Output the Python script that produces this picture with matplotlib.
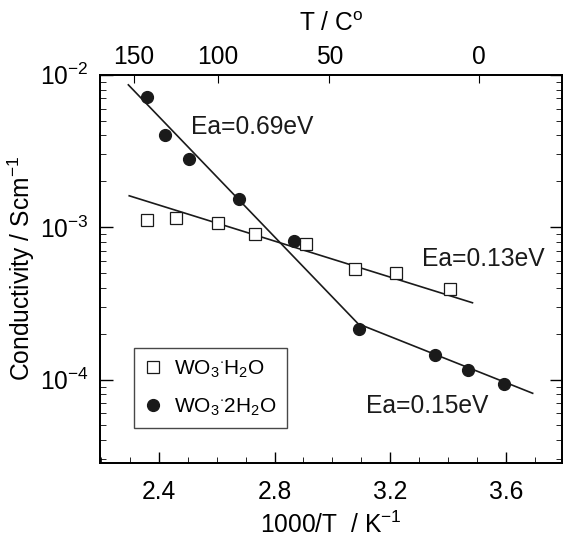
import matplotlib
matplotlib.use("Agg")
import matplotlib.pyplot as plt
from matplotlib.ticker import LogLocator, NullFormatter, FixedLocator, MultipleLocator

plt.rcParams['font.family'] = ['Liberation Sans', 'DejaVu Sans']
plt.rcParams['mathtext.fontset'] = 'custom'
plt.rcParams['mathtext.rm'] = 'Liberation Sans'
plt.rcParams['mathtext.it'] = 'Liberation Sans'
plt.rcParams['mathtext.bf'] = 'Liberation Sans:bold'

# WO3·2H2O (filled circles)
x_dihydrate = [2.358, 2.421, 2.506, 2.677, 2.868, 3.093, 3.353, 3.468, 3.594]
y_dihydrate = [7.13e-3, 4.03e-3, 2.79e-3, 1.53e-3, 8.1e-4, 2.15e-4, 1.46e-4, 1.15e-4, 9.35e-5]

# WO3·H2O (open squares)
x_mono = [2.360, 2.459, 2.606, 2.733, 2.908, 3.079, 3.220, 3.408]
y_mono = [1.12e-3, 1.15e-3, 1.07e-3, 9.0e-4, 7.78e-4, 5.35e-4, 4.98e-4, 3.93e-4]

# fitted lines
fit_mono_x = [2.298, 3.484]
fit_mono_y = [10**-2.794, 10**-3.496]
fit_di_x = [2.295, 3.089, 3.692]
fit_di_y = [10**-2.066, 10**-3.634, 10**-4.090]

ea_labels = ['Ea=0.69eV', 'Ea=0.13eV', 'Ea=0.15eV']
ea_x = [2.513, 3.310, 3.116]
ea_y = [4.55e-3, 6.15e-4, 6.75e-5]

x_ticks = [2.4, 2.8, 3.2, 3.6]
top_tick_labels = ['150', '100', '50', '0']
top_tick_pos = [2.313, 2.604, 2.989, 3.507]

fig = plt.figure(figsize=(5.65, 5.42), dpi=100)
ax = fig.add_axes([0.177, 0.146, 0.818, 0.716])

ax.plot(fit_mono_x, fit_mono_y, color='#1a1a1a', lw=1.2, zorder=2)
ax.plot(fit_di_x, fit_di_y, color='#1a1a1a', lw=1.2, zorder=2)
ax.plot(x_mono, y_mono, ls='none', marker='s', ms=8, mfc='white', mec='#1a1a1a', mew=0.9,
        label=r'WO$_3$$^{\cdot}$H$_2$O', zorder=3)
ax.plot(x_dihydrate, y_dihydrate, ls='none', marker='o', ms=8.5, mfc='#1a1a1a', mec='#1a1a1a',
        label=r'WO$_3$$^{\cdot}$2H$_2$O', zorder=3)

ax.set_yscale('log')
ax.set_xlim(2.197, 3.794)
ax.set_ylim(2.84e-5, 1e-2)

ax.xaxis.set_major_locator(FixedLocator(x_ticks))
ax.xaxis.set_minor_locator(MultipleLocator(0.1))
ax.set_xticklabels(['2.4', '2.8', '3.2', '3.6'])
ax.yaxis.set_major_locator(LogLocator(base=10, numticks=10))
ax.yaxis.set_minor_locator(LogLocator(base=10, subs=range(2, 10), numticks=20))
ax.yaxis.set_minor_formatter(NullFormatter())

ax.tick_params(axis='both', which='major', direction='in', labelsize=17.7, width=1.0)
ax.tick_params(axis='x', which='major', length=8, pad=12, top=False)
ax.tick_params(axis='x', which='minor', direction='in', length=4, top=False)
ax.tick_params(axis='y', which='major', length=9, right=True, pad=8)
ax.tick_params(axis='y', which='minor', direction='in', length=4.5, right=True)
for s in ax.spines.values():
    s.set_linewidth(1.3)

ax.set_xlabel(r'1000/T  / K$^{-1}$', fontsize=17.7, labelpad=6)
ax.set_ylabel(r'Conductivity / Scm$^{-1}$', fontsize=17.7, labelpad=2)

ax2 = ax.twiny()
ax2.set_xlim(ax.get_xlim())
ax2.xaxis.set_major_locator(FixedLocator(top_tick_pos))
ax2.set_xticklabels(top_tick_labels)
ax2.xaxis.set_minor_locator(FixedLocator([]))
ax2.tick_params(axis='x', which='major', direction='in', length=6, labelsize=17.7, pad=4)
ax2.set_xlabel(r'T / C$^{\mathrm{o}}$', fontsize=17.7, labelpad=10)
for s in ax2.spines.values():
    s.set_linewidth(1.3)

for lab, xx, yy in zip(ea_labels, ea_x, ea_y):
    ax.text(xx, yy, lab, fontsize=17.7, ha='left', va='center', color='#1a1a1a')

leg = ax.legend(loc='lower left', bbox_to_anchor=(0.074, 0.09), fontsize=15, frameon=True,
                fancybox=False, edgecolor='#1a1a1a', handlelength=0.8, handletextpad=0.6,
                borderpad=0.5, labelspacing=0.8, borderaxespad=0)
leg.get_frame().set_linewidth(1.0)

fig.savefig('out.png', dpi=100)
